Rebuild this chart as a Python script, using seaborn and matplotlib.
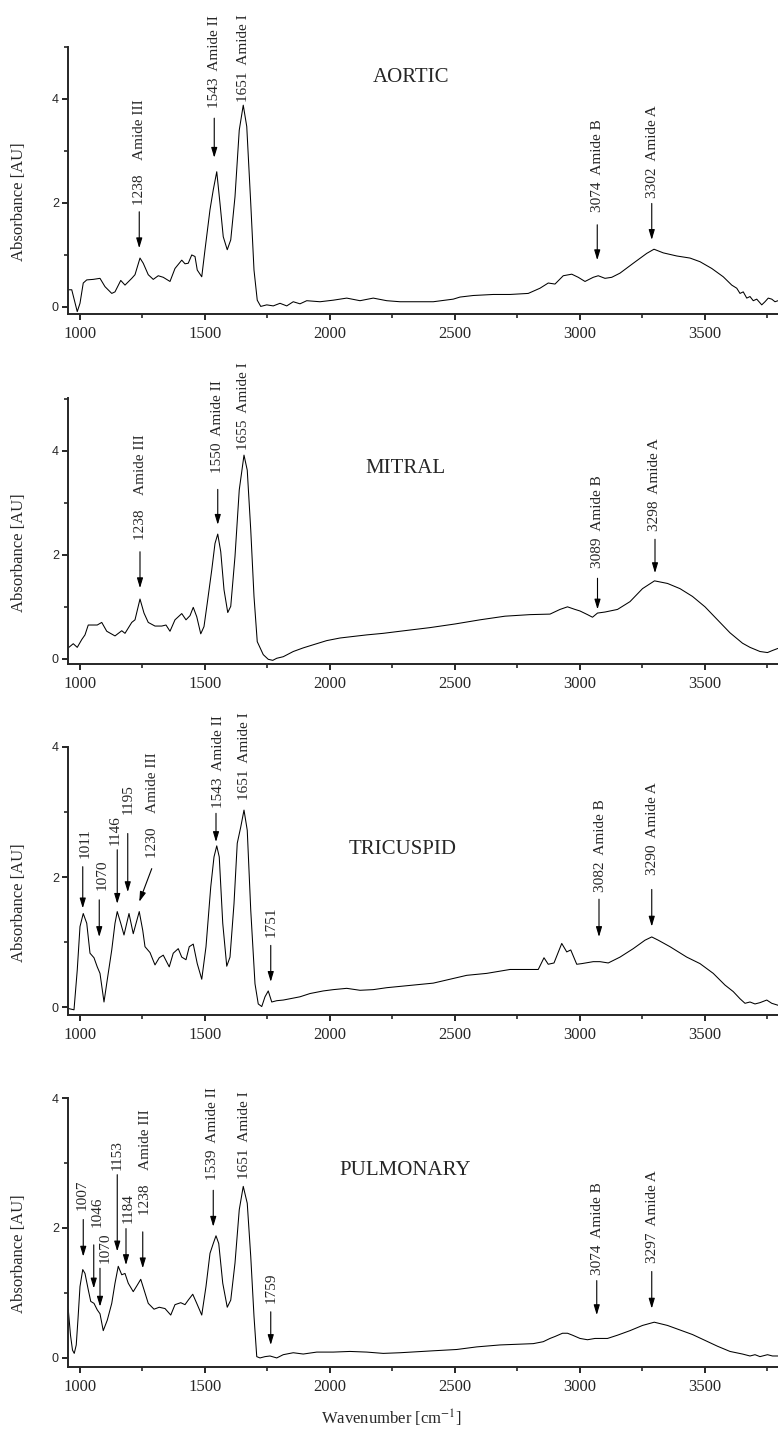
import numpy as np
import pandas as pd
import seaborn as sns
import matplotlib.pyplot as plt
from matplotlib.ticker import MultipleLocator

# ---- spectra (wavenumber cm-1, absorbance AU) ----
aortic_wn = [953, 967, 989, 1000, 1013, 1027, 1053, 1080, 1100, 1127, 1140, 1163, 1180, 1207, 1220,
             1240, 1253, 1273, 1293, 1313, 1333, 1360, 1380, 1407, 1420, 1433, 1447, 1460, 1469, 1487,
             1500, 1520, 1533, 1547, 1560, 1573, 1589, 1603, 1620, 1637, 1653, 1667, 1683, 1696, 1709,
             1723, 1747, 1773, 1800, 1827, 1853, 1880, 1907, 1960, 2013, 2067, 2120, 2173, 2227, 2280,
             2413, 2493, 2520, 2573, 2653, 2720, 2793, 2840, 2873, 2900, 2933, 2967, 2993, 3020, 3053,
             3073, 3100, 3127, 3160, 3213, 3267, 3296, 3333, 3387, 3440, 3480, 3527, 3573, 3607, 3627,
             3640, 3653, 3667, 3680, 3693, 3707, 3727, 3740, 3753, 3767, 3780, 3792]
aortic_abs = [0.33, 0.33, -0.09, 0.07, 0.46, 0.52, 0.53, 0.55, 0.39, 0.26, 0.29, 0.51, 0.42, 0.55, 0.62,
              0.94, 0.84, 0.62, 0.53, 0.60, 0.57, 0.49, 0.74, 0.90, 0.83, 0.84, 1.00, 0.97, 0.71, 0.58,
              1.10, 1.87, 2.25, 2.60, 1.99, 1.35, 1.10, 1.29, 2.12, 3.40, 3.88, 3.47, 1.99, 0.71, 0.13,
              0.01, 0.04, 0.02, 0.07, 0.02, 0.10, 0.06, 0.12, 0.10, 0.13, 0.17, 0.12, 0.17, 0.12, 0.10,
              0.10, 0.15, 0.19, 0.22, 0.24, 0.24, 0.26, 0.36, 0.46, 0.44, 0.60, 0.63, 0.57, 0.49, 0.57,
              0.60, 0.55, 0.57, 0.65, 0.84, 1.03, 1.11, 1.04, 0.98, 0.94, 0.87, 0.74, 0.58, 0.42, 0.36,
              0.26, 0.29, 0.17, 0.20, 0.12, 0.15, 0.04, 0.10, 0.17, 0.15, 0.10, 0.12]

mitral_wn = [953, 973, 989, 1007, 1020, 1033, 1053, 1069, 1087, 1107, 1140, 1167, 1180, 1207, 1220,
             1240, 1256, 1273, 1300, 1327, 1344, 1360, 1380, 1407, 1424, 1440, 1453, 1467, 1483, 1496,
             1509, 1527, 1540, 1551, 1563, 1576, 1591, 1603, 1620, 1637, 1656, 1669, 1683, 1696, 1709,
             1733, 1753, 1771, 1787, 1813, 1853, 1893, 1933, 1987, 2040, 2093, 2147, 2213, 2280, 2400,
             2500, 2600, 2700, 2800, 2880, 2920, 2950, 2980, 3000, 3030, 3050, 3070, 3100, 3150, 3200,
             3250, 3298, 3350, 3400, 3450, 3500, 3550, 3600, 3650, 3680, 3700, 3720, 3750, 3770, 3792]
mitral_abs = [0.21, 0.29, 0.22, 0.37, 0.46, 0.65, 0.65, 0.65, 0.70, 0.53, 0.44, 0.54, 0.49, 0.70, 0.75,
              1.15, 0.88, 0.70, 0.63, 0.63, 0.65, 0.53, 0.75, 0.87, 0.75, 0.83, 0.99, 0.81, 0.48, 0.62,
              1.07, 1.71, 2.22, 2.40, 2.06, 1.33, 0.89, 1.01, 1.97, 3.25, 3.92, 3.63, 2.48, 1.20, 0.33,
              0.08, -0.01, -0.03, 0.01, 0.04, 0.14, 0.21, 0.27, 0.35, 0.40, 0.43, 0.46, 0.49, 0.53, 0.60,
              0.67, 0.75, 0.82, 0.85, 0.86, 0.95, 1.00, 0.95, 0.92, 0.85, 0.80, 0.88, 0.90, 0.95, 1.10,
              1.35, 1.50, 1.45, 1.35, 1.20, 1.00, 0.75, 0.50, 0.30, 0.22, 0.18, 0.14, 0.12, 0.16, 0.20]

tricuspid_wn = [953, 976, 989, 1000, 1013, 1027, 1040, 1056, 1069, 1080, 1096, 1109, 1127, 1140, 1149,
                1163, 1176, 1196, 1213, 1237, 1251, 1260, 1280, 1300, 1317, 1333, 1357, 1373, 1393, 1407,
                1424, 1437, 1453, 1469, 1487, 1504, 1523, 1536, 1547, 1557, 1571, 1587, 1600, 1616, 1629,
                1643, 1656, 1669, 1683, 1700, 1713, 1727, 1740, 1753, 1767, 1787, 1813, 1840, 1880, 1920,
                1973, 2013, 2067, 2120, 2173, 2227, 2280, 2413, 2547, 2627, 2720, 2833, 2856, 2873, 2896,
                2927, 2947, 2963, 2987, 3007, 3053, 3080, 3113, 3160, 3213, 3260, 3287, 3313, 3360, 3427,
                3480, 3533, 3580, 3613, 3640, 3660, 3680, 3700, 3720, 3747, 3767, 3792]
tricuspid_abs = [-0.02, -0.04, 0.57, 1.24, 1.44, 1.29, 0.83, 0.76, 0.62, 0.52, 0.08, 0.42, 0.88, 1.29, 1.47,
                 1.29, 1.11, 1.44, 1.13, 1.47, 1.18, 0.93, 0.84, 0.65, 0.76, 0.80, 0.62, 0.83, 0.90, 0.77,
                 0.73, 0.93, 0.97, 0.67, 0.43, 0.93, 1.85, 2.31, 2.48, 2.31, 1.29, 0.63, 0.77, 1.59, 2.52,
                 2.77, 3.03, 2.72, 1.49, 0.36, 0.05, 0.01, 0.16, 0.25, 0.08, 0.10, 0.11, 0.13, 0.16, 0.21,
                 0.25, 0.27, 0.29, 0.26, 0.27, 0.30, 0.32, 0.37, 0.49, 0.52, 0.58, 0.58, 0.76, 0.66, 0.68,
                 0.98, 0.85, 0.88, 0.66, 0.67, 0.70, 0.70, 0.68, 0.77, 0.90, 1.03, 1.08, 1.03, 0.93, 0.77,
                 0.67, 0.52, 0.34, 0.24, 0.13, 0.06, 0.08, 0.05, 0.07, 0.11, 0.06, 0.03]

pulmonary_wn = [953, 962, 970, 977, 985, 992, 1000, 1011, 1020, 1033, 1043, 1056, 1069, 1080, 1093,
                1109, 1127, 1140, 1153, 1167, 1180, 1193, 1213, 1229, 1243, 1256, 1273, 1296, 1317, 1340,
                1363, 1380, 1403, 1420, 1433, 1451, 1467, 1487, 1504, 1520, 1533, 1544, 1555, 1571, 1589,
                1603, 1620, 1637, 1653, 1669, 1683, 1696, 1707, 1720, 1740, 1760, 1787, 1813, 1853, 1893,
                1947, 2013, 2080, 2147, 2213, 2280, 2413, 2507, 2587, 2680, 2813, 2853, 2880, 2900, 2930,
                2950, 2970, 3000, 3030, 3060, 3080, 3110, 3150, 3200, 3250, 3297, 3350, 3400, 3450, 3500,
                3550, 3600, 3650, 3680, 3700, 3720, 3750, 3770, 3792]
pulmonary_abs = [0.75, 0.35, 0.12, 0.07, 0.20, 0.60, 1.10, 1.36, 1.30, 1.05, 0.87, 0.84, 0.74, 0.68, 0.42,
                 0.58, 0.84, 1.15, 1.41, 1.28, 1.30, 1.15, 1.02, 1.12, 1.21, 1.05, 0.84, 0.75, 0.78, 0.76,
                 0.66, 0.82, 0.85, 0.82, 0.89, 0.98, 0.84, 0.66, 1.10, 1.61, 1.76, 1.88, 1.76, 1.15, 0.78,
                 0.89, 1.46, 2.28, 2.64, 2.38, 1.56, 0.64, 0.02, 0.00, 0.02, 0.03, 0.00, 0.05, 0.08, 0.06,
                 0.09, 0.09, 0.10, 0.09, 0.07, 0.08, 0.11, 0.13, 0.17, 0.20, 0.22, 0.25, 0.30, 0.33, 0.38,
                 0.38, 0.35, 0.30, 0.28, 0.30, 0.30, 0.30, 0.35, 0.42, 0.50, 0.55, 0.50, 0.43, 0.36, 0.27,
                 0.18, 0.10, 0.06, 0.03, 0.05, 0.02, 0.05, 0.03, 0.03]

# ---- peak labels: (text, text x, text y, arrow start or None, arrow end) ----
aortic_peaks = [
    ("1238    Amide III", 1240, 1.96, (1237, 1.83), (1237, 1.13)),
    ("1543  Amide II", 1540, 3.82, (1537, 3.63), (1537, 2.87)),
    ("1651  Amide I", 1655, 3.95, None, None),
    ("3074  Amide B", 3069, 1.83, (3069, 1.58), (3069, 0.90)),
    ("3302  Amide A", 3289, 2.09, (3287, 1.99), (3287, 1.29)),
]
mitral_peaks = [
    ("1238    Amide III", 1243, 2.29, (1240, 2.06), (1240, 1.36)),
    ("1550  Amide II", 1551, 3.57, (1551, 3.26), (1551, 2.58)),
    ("1655  Amide I", 1653, 4.02, None, None),
    ("3089  Amide B", 3072, 1.75, (3070, 1.55), (3070, 0.95)),
    ("3298  Amide A", 3300, 2.45, (3300, 2.30), (3300, 1.65)),
]
tricuspid_peaks = [
    ("1011", 1020, 2.29, (1011, 2.16), (1011, 1.52)),
    ("1070", 1087, 1.80, (1077, 1.65), (1077, 1.08)),
    ("1146", 1140, 2.49, (1149, 2.42), (1149, 1.59)),
    ("1195", 1193, 2.97, (1191, 2.67), (1191, 1.77)),
    ("1230    Amide III", 1291, 2.29, (1287, 2.13), (1237, 1.62)),
    ("1543  Amide II", 1553, 3.06, (1544, 2.98), (1544, 2.54)),
    ("1651  Amide I", 1660, 3.18, None, None),
    ("1751", 1763, 1.08, (1763, 0.95), (1763, 0.39)),
    ("3082  Amide B", 3083, 1.77, (3076, 1.66), (3076, 1.08)),
    ("3290  Amide A", 3289, 2.03, (3287, 1.81), (3287, 1.24)),
]
pulmonary_peaks = [
    ("1007", 1010, 2.28, (1013, 2.13), (1013, 1.56)),
    ("1046", 1068, 2.02, (1055, 1.74), (1055, 1.07)),
    ("1070", 1102, 1.46, (1080, 1.38), (1080, 0.79)),
    ("1153", 1149, 2.89, (1149, 2.82), (1149, 1.64)),
    ("1184", 1193, 2.07, (1184, 1.99), (1184, 1.43)),
    ("1238    Amide III", 1262, 2.20, (1251, 1.94), (1251, 1.38)),
    ("1539  Amide II", 1529, 2.74, (1533, 2.58), (1533, 2.02)),
    ("1651  Amide I", 1660, 2.76, None, None),
    ("1759", 1763, 0.84, (1763, 0.71), (1763, 0.20)),
    ("3074  Amide B", 3069, 1.28, (3067, 1.19), (3067, 0.66)),
    ("3297  Amide A", 3291, 1.46, (3287, 1.33), (3287, 0.76)),
]

panels = [
    # name, wn, abs, peaks, title pos, ylim, axes rect
    ("AORTIC", aortic_wn, aortic_abs, aortic_peaks, (2324, 4.42), (-0.135, 5.0), [0.0874, 0.7806, 0.9126, 0.1866]),
    ("MITRAL", mitral_wn, mitral_abs, mitral_peaks, (2300, 3.67), (-0.10, 5.02), [0.0874, 0.5360, 0.9126, 0.1859]),
    ("TRICUSPID", tricuspid_wn, tricuspid_abs, tricuspid_peaks, (2292, 2.42), (-0.12, 4.0), [0.0874, 0.2907, 0.9126, 0.1873]),
    ("PULMONARY", pulmonary_wn, pulmonary_abs, pulmonary_peaks, (2300, 2.89), (-0.14, 4.0), [0.0874, 0.0447, 0.9126, 0.1880]),
]

sns.set_theme(style="ticks")
plt.rcParams['font.family'] = ['Liberation Serif', 'DejaVu Serif']
plt.rcParams['mathtext.fontset'] = 'stix'

fig = plt.figure(figsize=(7.78, 14.31), dpi=100)

for name, wn, ab, peaks, tpos, ylim, rect in panels:
    ax = fig.add_axes(rect)
    df = pd.DataFrame({"wn": wn, "abs": ab})
    sns.lineplot(data=df, x="wn", y="abs", ax=ax, color="black", lw=0.75, sort=False, estimator=None)

    ax.set_xlim(952, 3792)
    ax.set_ylim(*ylim)
    ax.xaxis.set_major_locator(MultipleLocator(500))
    ax.xaxis.set_minor_locator(MultipleLocator(250))
    ax.yaxis.set_major_locator(MultipleLocator(2))
    ax.yaxis.set_minor_locator(MultipleLocator(1))
    sns.despine(ax=ax)
    for s in ["left", "bottom"]:
        ax.spines[s].set_linewidth(1.4)
    ax.tick_params(which="major", direction="out", length=4.5, width=1.4)
    ax.tick_params(which="minor", direction="out", length=2.8, width=1.2)
    ax.tick_params(axis="x", labelsize=12, pad=4)
    ax.tick_params(axis="y", labelsize=9, pad=2, labelfontfamily="Liberation Sans")
    ax.set_xlabel("")
    ax.set_ylabel("Absorbance [AU]", fontsize=12)
    ax.yaxis.set_label_coords(-0.058, 0.42)

    ax.text(tpos[0], tpos[1], name, ha="center", va="center", fontsize=15)

    for txt, tx, ty, a0, a1 in peaks:
        ax.text(tx, ty, txt, rotation=90, ha="center", va="bottom", fontsize=11)
        if a0 is not None:
            ax.annotate("", xy=a1, xytext=a0,
                        arrowprops=dict(arrowstyle="-|>,head_length=0.5,head_width=0.15",
                                        color="black", lw=0.8, shrinkA=0, shrinkB=0,
                                        mutation_scale=12))

fig.text(391 / 778, 1 - 1418 / 1431, r"Wavenumber [cm$^{-1}$]", ha="center", va="center", fontsize=12)

fig.savefig("out.png", dpi=100)
